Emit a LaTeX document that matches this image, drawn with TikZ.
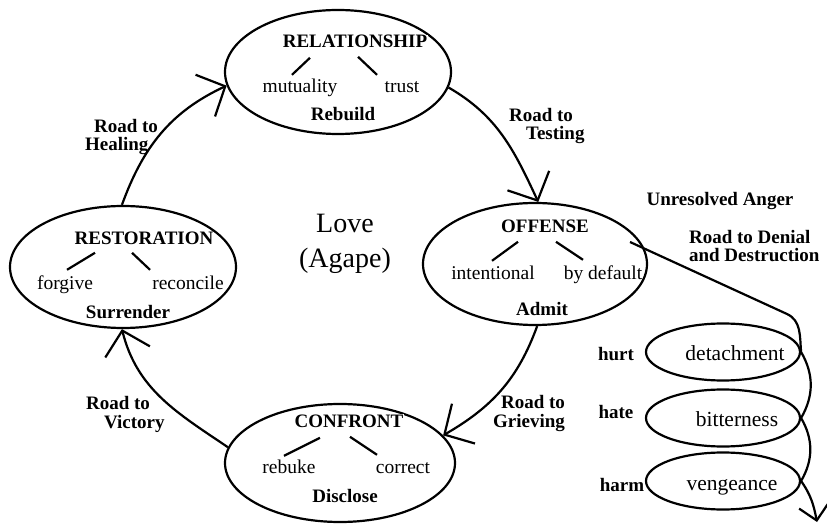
\documentclass[tikz,border=0pt]{standalone}
\usepackage{fontspec}
\setmainfont{Liberation Serif}
\usetikzlibrary{shapes.geometric,arrows.meta}

\begin{document}
\begin{tikzpicture}[x=1pt,y=1pt,line width=2.2pt,
  bigoval/.style={draw,ellipse,inner sep=0pt,minimum width=226pt,minimum height=122pt},
  smalloval/.style={draw,ellipse,inner sep=0pt,minimum width=154pt,minimum height=57pt},
  title/.style={anchor=base,fill=white,inner sep=0.5pt,font=\bfseries\fontsize{19}{19}\selectfont},
  word/.style={anchor=base,inner sep=0pt,font=\fontsize{19.5}{20}\selectfont},
  verb/.style={anchor=base,inner sep=0pt,font=\bfseries\fontsize{19}{19}\selectfont},
  feel/.style={anchor=base,inner sep=0pt,font=\fontsize{21.5}{22}\selectfont},
  road/.style={inner sep=0pt,font=\bfseries\fontsize{19}{18.5}\selectfont},
  roadto/.style={-{Straight Barb[length=22pt,width=46pt]}},
  spiral/.style={-{Straight Barb[length=15pt,width=30pt]}}]
\useasboundingbox (0,0) rectangle (827,-526);

% the four stages
\node[bigoval,minimum height=124pt] (rel) at (338,-72) {};
\node[bigoval,minimum width=224pt] (off) at (535,-264) {};
\node[bigoval] (rest) at (123,-267) {};
\node[bigoval,minimum width=230pt,minimum height=118pt] (conf) at (340,-463) {};

% the way down
\node[smalloval] (det) at (723,-352) {};
\node[smalloval] (bit) at (723,-418) {};
\node[smalloval] (ven) at (723,-481) {};

% multi-line nodes sit on the baseline of their last line
\node[anchor=base,align=center,font=\fontsize{28}{35}\selectfont] (love) at (345,-268) {Love\\(Agape)};

\node[title] (reltitle) at (355,-48) {RELATIONSHIP};
\node[word] (mutual) at (300,-93) {mutuality};
\node[word] (trust) at (402,-93) {trust};
\node[verb] (rebuild) at (343,-121) {Rebuild};

\node[title] (offtitle) at (545,-233) {OFFENSE};
\node[word] (intent) at (493,-280) {intentional};
\node[word] (default) at (603,-280) {by default};
\node[verb] (admit) at (542,-316) {Admit};

\node[title] (resttitle) at (144,-245) {RESTORATION};
\node[word] (forgive) at (65,-290) {forgive};
\node[word] (reconcile) at (188,-290) {reconcile};
\node[verb] (surrender) at (128,-319) {Surrender};

\node[title] (conftitle) at (349,-427) {CONFRONT};
\node[word] (rebuke) at (289,-473) {rebuke};
\node[word] (correct) at (403,-473) {correct};
\node[verb] (disclose) at (345,-502) {Disclose};

\node[feel] (detword) at (735,-361) {detachment};
\node[feel] (bitword) at (737,-426) {bitterness};
\node[feel] (venword) at (732,-490) {vengeance};
\node[verb] (hurt) at (616,-360) {hurt};
\node[verb] (hate) at (616,-418) {hate};
\node[verb] (harm) at (622,-491) {harm};

\node[verb] (anger) at (720,-206) {Unresolved Anger};

% roads
\node[road,align=left,anchor=base west] (testing) at (508,-140) {Road to\\\hspace*{17pt}Testing};
\node[road,align=right,anchor=base east] (grieving) at (566,-427) {Road to\\Grieving};
\node[road,align=left,anchor=base west] (victory) at (85,-428) {Road to\\\hspace*{18pt}Victory};
\node[road,align=left,anchor=base west] (healing) at (84,-151) {\hspace*{9pt}Road to\\Healing};
\node[road,align=left,anchor=base west] (denial) at (688,-262) {Road to Denial\\and Destruction};

% branches under the titles
\draw (reltitle) ++(-45,-16) -- ++(-18,-17);
\draw (reltitle) ++(3,-15) -- ++(19,-18);
\draw (offtitle) ++(-27,-15) -- ++(-26,-19);
\draw (offtitle) ++(11,-15) -- ++(27,-18);
\draw (resttitle) ++(-49,-14) -- ++(-28,-17);
\draw (resttitle) ++(-12,-14) -- ++(18,-17);
\draw (conftitle) ++(-29,-17) -- ++(-36,-18);
\draw (conftitle) ++(1,-16) -- ++(27,-18);

% the circle of love
\draw[roadto] (rel.-8) to[out=-30,in=115] (off.87);
\draw[roadto] (off.-88) to[out=-110,in=30] (conf.15);
\draw[roadto] (conf.172) to[out=146,in=-76] (rest.-91);
\draw[roadto] (rest.91) to[out=70,in=205] (rel.187);

% denial and destruction
\coordinate (dstart) at (630,-242);
\coordinate (dbend) at (787,-314);
\coordinate (dend) at (817,-522);
\draw[spiral] (dstart) -- (dbend) to[out=-25,in=95] (det.east)
  to[out=-60,in=60] (bit.east) to[out=-60,in=60] (ven.east)
  to[out=-55,in=101] (dend);
\end{tikzpicture}
\end{document}
